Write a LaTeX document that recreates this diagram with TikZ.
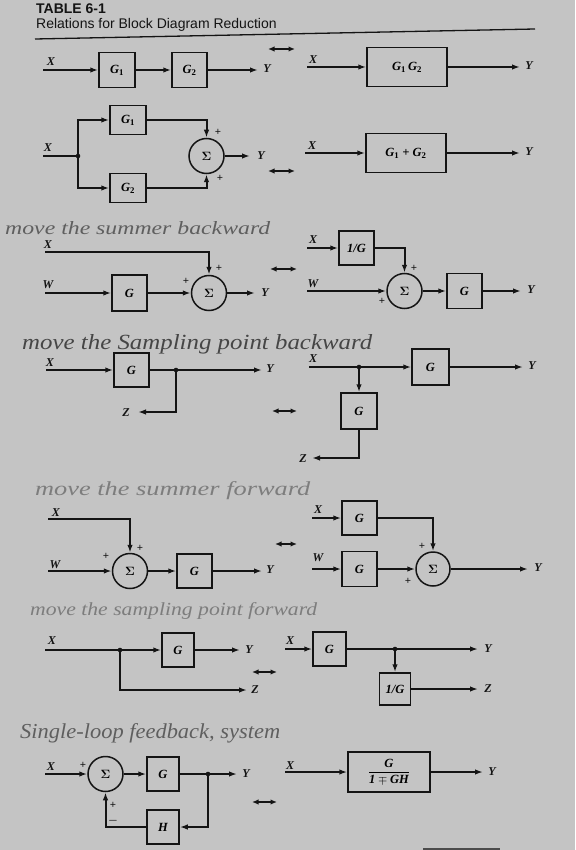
\documentclass[tikz,border=0pt]{standalone}
\usepackage{amsmath}
\usepackage{fontspec}
\setmainfont{Liberation Serif}
\newfontfamily\hel{Liberation Sans}
\usetikzlibrary{arrows.meta,calc}
\definecolor{bg}{RGB}{196,196,196}
\definecolor{ink}{RGB}{20,20,20}
\definecolor{pen}{RGB}{70,70,70}
\definecolor{penmid}{RGB}{95,95,95}
\definecolor{penlight}{RGB}{125,125,125}
\newcommand\Gsub[1]{\textit{G}\textsubscript{\upshape #1}}
\begin{document}
\begin{tikzpicture}[x=1pt,y=-1pt,
  sig/.style={draw=ink,line width=2pt},
  arr/.style={sig,-{Latex[length=8pt,width=5.5pt]}},
  dbl/.style={sig,{Latex[length=6.5pt,width=5.5pt]}-{Latex[length=6.5pt,width=5.5pt]}},
  blk/.style={draw=ink,line width=1.5pt,rectangle,inner sep=0pt,font=\fontsize{12.5}{14}\selectfont\bfseries\itshape},
  sumc/.style={draw=ink,circle,line width=1.5pt,minimum size=35pt,inner sep=0pt,font=\fontsize{13}{14}\selectfont\bfseries},
  lab/.style={text=ink,inner sep=0pt,font=\fontsize{12}{13}\selectfont\bfseries\itshape},
  pls/.style={text=ink,inner sep=0pt,font=\fontsize{11}{12}\selectfont\bfseries},
  hand/.style={anchor=base west,inner sep=0pt,font=\itshape},
  dot/.style={fill=ink}
]
\fill[bg] (0,0) rectangle (575,850);
\useasboundingbox (0,0) rectangle (575,850);

% header
\node[anchor=base west,inner sep=0pt,text=ink,font=\hel\bfseries\fontsize{14}{16}\selectfont] (t1) at (36,14) {TABLE 6-1};
\node[anchor=base west,inner sep=0pt,text=ink,font=\hel\fontsize{14}{16}\selectfont] (t2) at (36,29) {Relations for Block Diagram Reduction};
\coordinate (ra) at (35,39); \coordinate (rb) at (535,29);
\draw[ink,line width=1.3pt] (ra) -- (rb);

% ---------- Row 1 ----------
\coordinate (x1) at (43,70); \coordinate (y1) at (258,70);
\node[blk,minimum width=36pt,minimum height=35pt] (g11) at (117,70) {\Gsub{1}};
\node[blk,minimum width=35pt,minimum height=35pt] (g12) at (189.5,70) {\Gsub{2}};
\draw[arr] (x1) -- (g11.west);
\draw[arr] (g11.east) -- (g12.west);
\draw[arr] (g12.east) -- (y1);
\node[lab] (lx1) at (51,62) {X};
\node[lab] (ly1) at (267,69) {Y};
\coordinate (d1a) at (268,49); \coordinate (d1b) at (295,49);
\draw[dbl] (d1a) -- (d1b);
% right
\coordinate (x1r) at (307,67); \coordinate (y1r) at (520,67);
\node[blk,minimum width=80pt,minimum height=39pt] (g1r) at (407,67) {\textit{G}\textsubscript{\upshape 1}\,\textit{G}\textsubscript{\upshape 2}};
\draw[arr] (x1r) -- (g1r.west);
\draw[arr] (g1r.east) -- (y1r);
\node[lab] (lx1r) at (313,60) {X};
\node[lab] (ly1r) at (529,66) {Y};

% ---------- Row 2 ----------
\coordinate (x2) at (43,156); \coordinate (j2) at (78,156); \coordinate (y2) at (250,156);
\node[blk,minimum width=36pt,minimum height=29pt] (g21) at (128,120) {\Gsub{1}};
\node[blk,minimum width=36pt,minimum height=29pt] (g22) at (128,188) {\Gsub{2}};
\node[sumc] (s2) at (206.5,156) {$\boldsymbol{\Sigma}$};
\draw[sig] (x2) -- (j2);
\fill[dot] (j2) circle (2.3pt);
\draw[arr] (j2) |- (g21.west);
\draw[arr] (j2) |- (g22.west);
\draw[arr] (g21.east) -| (s2.north);
\draw[arr] (g22.east) -| (s2.south);
\draw[arr] (s2.east) -- (y2);
\node[pls] (p21) at (218,132) {+};
\node[pls] (p22) at (220,178) {+};
\node[lab] (lx2) at (48,148) {X};
\node[lab] (ly2) at (261,156) {Y};
\coordinate (d2a) at (268,171); \coordinate (d2b) at (295,171);
\draw[dbl] (d2a) -- (d2b);
% right
\coordinate (x2r) at (305,153); \coordinate (y2r) at (520,153);
\node[blk,minimum width=80pt,minimum height=39pt] (g2r) at (406,153) {\Gsub{1} + \Gsub{2}};
\draw[arr] (x2r) -- (g2r.west);
\draw[arr] (g2r.east) -- (y2r);
\node[lab] (lx2r) at (312,146) {X};
\node[lab] (ly2r) at (529,152) {Y};

% ---------- Row 3 ----------
\node[hand,text=penmid] (h3) at (5,235) {\resizebox{265pt}{13pt}{move the summer backward}};
\coordinate (x3) at (45,252); \coordinate (w3) at (45,293); \coordinate (y3) at (255,293);
\node[blk,minimum width=35pt,minimum height=36pt] (g3) at (129.5,293) {G};
\node[sumc] (s3) at (209,293) {$\boldsymbol{\Sigma}$};
\draw[arr] (x3) -| (s3.north);
\draw[arr] (w3) -- (g3.west);
\draw[arr] (g3.east) -- (s3.west);
\draw[arr] (s3.east) -- (y3);
\node[pls] (p31) at (219,268) {+};
\node[pls] (p32) at (186,281) {+};
\node[lab] (lx3) at (48,245) {X};
\node[lab] (lw3) at (48,285) {W};
\node[lab] (ly3) at (265,293) {Y};
\coordinate (d3a) at (270,269); \coordinate (d3b) at (297,269);
\draw[dbl] (d3a) -- (d3b);
% right
\coordinate (x3r) at (307,248); \coordinate (w3r) at (307,291); \coordinate (y3r) at (521,291);
\node[blk,minimum width=35pt,minimum height=34pt] (ig3) at (356.5,248) {1/G};
\node[sumc] (s3r) at (404.5,291) {$\boldsymbol{\Sigma}$};
\node[blk,minimum width=35pt,minimum height=35pt] (g3r) at (464.5,291) {G};
\draw[arr] (x3r) -- (ig3.west);
\draw[arr] (ig3.east) -| (s3r.north);
\draw[arr] (w3r) -- (s3r.west);
\draw[arr] (s3r.east) -- (g3r.west);
\draw[arr] (g3r.east) -- (y3r);
\node[pls] (p3r1) at (414,268) {+};
\node[pls] (p3r2) at (382,301) {+};
\node[lab] (lx3r) at (313,240) {X};
\node[lab] (lw3r) at (313,284) {W};
\node[lab] (ly3r) at (531,290) {Y};

% ---------- Row 4 ----------
\node[hand,text=pen] (h4) at (22,349) {\resizebox{350pt}{15pt}{move the Sampling point backward}};
\coordinate (x4) at (46,370); \coordinate (j4) at (176,370); \coordinate (y4) at (262,370); \coordinate (z4) at (138,412);
\node[blk,minimum width=35pt,minimum height=34pt] (g4) at (131.5,370) {G};
\draw[arr] (x4) -- (g4.west);
\draw[arr] (g4.east) -- (y4);
\fill[dot] (j4) circle (2.3pt);
\draw[arr] (j4) |- (z4);
\node[lab] (lx4) at (50,363) {X};
\node[lab] (ly4) at (270,369) {Y};
\node[lab] (lz4) at (126,413) {Z};
\coordinate (d4a) at (272,411); \coordinate (d4b) at (297,411);
\draw[dbl] (d4a) -- (d4b);
% right
\coordinate (x4r) at (309,367); \coordinate (j4r) at (359,367); \coordinate (y4r) at (523,367); \coordinate (c4r) at (359,458); \coordinate (z4r) at (312,458);
\node[blk,minimum width=37pt,minimum height=36pt] (g4r) at (430.5,367) {G};
\node[blk,minimum width=36pt,minimum height=36pt] (g4r2) at (359,411) {G};
\draw[arr] (x4r) -- (g4r.west);
\draw[arr] (g4r.east) -- (y4r);
\fill[dot] (j4r) circle (2.3pt);
\draw[arr] (j4r) -- (g4r2.north);
\draw[arr] (g4r2.south) -- (c4r) -- (z4r);
\node[lab] (lx4r) at (313,359) {X};
\node[lab] (ly4r) at (532,366) {Y};
\node[lab] (lz4r) at (303,459) {Z};

% ---------- Row 5 ----------
\node[hand,text=penlight] (h5) at (35,495) {\resizebox{275pt}{14pt}{move the summer forward}};
\coordinate (x5) at (48,519); \coordinate (w5) at (48,571); \coordinate (y5) at (262,571);
\node[sumc] (s5) at (130,571) {$\boldsymbol{\Sigma}$};
\node[blk,minimum width=35pt,minimum height=34pt] (g5) at (194.5,571) {G};
\draw[arr] (x5) -| (s5.north);
\draw[arr] (w5) -- (s5.west);
\draw[arr] (s5.east) -- (g5.west);
\draw[arr] (g5.east) -- (y5);
\node[pls] (p51) at (140,548) {+};
\node[pls] (p52) at (106,556) {+};
\node[lab] (lx5) at (56,513) {X};
\node[lab] (lw5) at (55,565) {W};
\node[lab] (ly5) at (270,570) {Y};
\coordinate (d5a) at (275,544); \coordinate (d5b) at (297,544);
\draw[dbl] (d5a) -- (d5b);
% right
\coordinate (x5r) at (312,518); \coordinate (w5r) at (312,569); \coordinate (y5r) at (528,569);
\node[blk,minimum width=35pt,minimum height=34pt] (g5r1) at (359.5,518) {G};
\node[blk,minimum width=35pt,minimum height=35pt] (g5r2) at (359.5,569) {G};
\node[sumc,minimum size=34pt] (s5r) at (433,569) {$\boldsymbol{\Sigma}$};
\draw[arr] (x5r) -- (g5r1.west);
\draw[arr] (w5r) -- (g5r2.west);
\draw[arr] (g5r1.east) -| (s5r.north);
\draw[arr] (g5r2.east) -- (s5r.west);
\draw[arr] (s5r.east) -- (y5r);
\node[pls] (p5r1) at (422,546) {+};
\node[pls] (p5r2) at (408,581) {+};
\node[lab] (lx5r) at (318,510) {X};
\node[lab] (lw5r) at (318,558) {W};
\node[lab] (ly5r) at (538,568) {Y};

% ---------- Row 6 ----------
\node[hand,text=penlight] (h6) at (30,615) {\resizebox{287pt}{13pt}{move the sampling point forward}};
\coordinate (x6) at (45,650); \coordinate (j6) at (120,650); \coordinate (y6) at (240,650); \coordinate (z6) at (247,690);
\node[blk,minimum width=32pt,minimum height=34pt] (g6) at (178,650) {G};
\draw[arr] (x6) -- (g6.west);
\draw[arr] (g6.east) -- (y6);
\fill[dot] (j6) circle (2.3pt);
\draw[arr] (j6) |- (z6);
\node[lab] (lx6) at (52,641) {X};
\node[lab] (ly6) at (249,650) {Y};
\node[lab] (lz6) at (255,690) {Z};
\coordinate (d6a) at (252,672); \coordinate (d6b) at (277,672);
\draw[dbl] (d6a) -- (d6b);
% right
\coordinate (x6r) at (285,649); \coordinate (j6r) at (395,649); \coordinate (y6r) at (478,649); \coordinate (z6r) at (478,689);
\node[blk,minimum width=33pt,minimum height=34pt] (g6r) at (329.5,649) {G};
\node[blk,minimum width=31pt,minimum height=32pt] (ig6) at (395,689) {1/G};
\draw[arr] (x6r) -- (g6r.west);
\draw[arr] (g6r.east) -- (y6r);
\fill[dot] (j6r) circle (2.3pt);
\draw[arr] (j6r) -- (ig6.north);
\draw[arr] (ig6.east) -- (z6r);
\node[lab] (lx6r) at (290,641) {X};
\node[lab] (ly6r) at (488,649) {Y};
\node[lab] (lz6r) at (488,689) {Z};

% ---------- Row 7 ----------
\node[hand,text=penmid] (h7) at (20,738) {\resizebox{260pt}{15pt}{Single-loop feedback, system}};
\coordinate (x7) at (45,774); \coordinate (j7) at (208,774); \coordinate (y7) at (237,774);
\node[sumc] (s7) at (105.5,774) {$\boldsymbol{\Sigma}$};
\node[blk,minimum width=32pt,minimum height=34pt] (g7) at (163,774) {G};
\node[blk,minimum width=32pt,minimum height=34pt] (h7b) at (163,827) {H};
\draw[arr] (x7) -- (s7.west);
\draw[arr] (s7.east) -- (g7.west);
\draw[sig] (g7.east) -- (j7);
\draw[arr] (j7) -- (y7);
\fill[dot] (j7) circle (2.3pt);
\draw[arr] (j7) |- (h7b.east);
\draw[arr] (h7b.west) -| (s7.south);
\node[pls] (p71) at (83,765) {+};
\node[pls] (p72) at (113,805) {+};
\node[pls] (p73) at (113,821) {$\boldsymbol{-}$};
\node[lab] (lx7) at (51,767) {X};
\node[lab] (ly7) at (246,774) {Y};
\coordinate (d7a) at (252,802); \coordinate (d7b) at (277,802);
\draw[dbl] (d7a) -- (d7b);
% right
\coordinate (x7r) at (285,772); \coordinate (y7r) at (483,772);
\node[blk,minimum width=82pt,minimum height=40pt] (g7r) at (389,772) {$\dfrac{\mbox{\bfseries\itshape G}}{\mbox{\bfseries 1}\mp\mbox{\bfseries\itshape GH}}$};
\draw[arr] (x7r) -- (g7r.west);
\draw[arr] (g7r.east) -- (y7r);
\node[lab] (lx7r) at (290,766) {X};
\node[lab] (ly7r) at (492,772) {Y};

% scan edge mark
\fill[black!70] (423,848) rectangle (500,850);
\end{tikzpicture}
\end{document}
